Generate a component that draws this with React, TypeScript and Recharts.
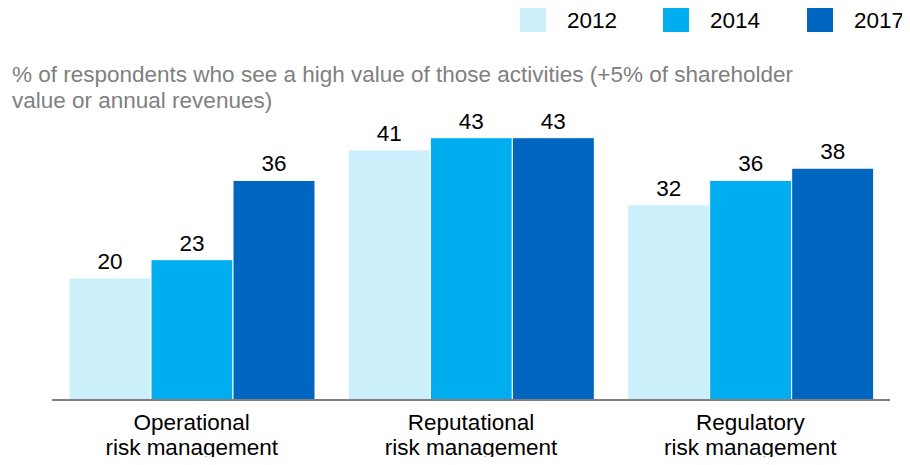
import React from 'react'
import {BarChart, Bar, XAxis, YAxis, LabelList} from 'recharts'

const categories = ['Operational\nrisk management', 'Reputational\nrisk management', 'Regulatory\nrisk management']
const years = ['2012', '2014', '2017']
const v2012 = [20, 41, 32]
const v2014 = [23, 43, 36]
const v2017 = [36, 43, 38]
const colors = ['#CCEFFC', '#00AEEF', '#0066BF']

const data = categories.map((c, i) => ({name: c, y2012: v2012[i], y2014: v2014[i], y2017: v2017[i]}))

const font = 'Liberation Sans, Arial, sans-serif'
const fs = 22.5

function Tick(props: any) {
  const {x, y, payload} = props
  const lines = String(payload.value).split('\n')
  return (
    <g transform={`translate(${x},${y})`}>
      {lines.map((l, i) => (
        <text key={i} x={0} y={22 + i * 25} textAnchor="middle" fill="#000" fontSize={fs} fontFamily={font}>{l}</text>
      ))}
    </g>
  )
}

function LegendBox() {
  const xs = [520, 663, 807]
  return (
    <svg width={910} height={40} style={{position: 'absolute', left: 0, top: 0}}>
      {years.map((yr, i) => (
        <g key={yr}>
          <rect x={xs[i]} y={7} width={26} height={25} fill={colors[i]} />
          <text x={xs[i] + 47} y={28} fontSize={fs} fontFamily={font} fill="#000">{yr}</text>
        </g>
      ))}
    </svg>
  )
}

export default function App() {
  return (
    <div style={{position: 'relative', width: 910, height: 465, margin: -8, background: '#fff', fontFamily: font, overflow: 'hidden'}}>
      <LegendBox />
      <div style={{position: 'absolute', left: 12, top: 62, width: 850, fontSize: fs, lineHeight: '26px', color: '#808080'}}>
        % of respondents who see a high value of those activities (+5% of shareholder<br />value or annual revenues)
      </div>
      <div style={{position: 'absolute', left: 0, top: 0}}>
        <BarChart width={910} height={465} data={data} margin={{top: 95, right: 20, left: 52, bottom: 5}}
          barCategoryGap={17} barGap={0}>
          <XAxis dataKey="name" height={60} tickLine={false} axisLine={{stroke: '#808080', strokeWidth: 2}}
            tick={<Tick />} interval={0} />
          <YAxis hide domain={[0, 50]} />
          {years.map((yr, i) => (
            <Bar key={yr} dataKey={'y' + yr} name={yr} fill={colors[i]} stroke="#fff" strokeWidth={1} isAnimationActive={false}>
              <LabelList dataKey={'y' + yr} position="top" offset={9} fill="#000" fontSize={fs} fontFamily={font} />
            </Bar>
          ))}
        </BarChart>
      </div>
    </div>
  )
}
